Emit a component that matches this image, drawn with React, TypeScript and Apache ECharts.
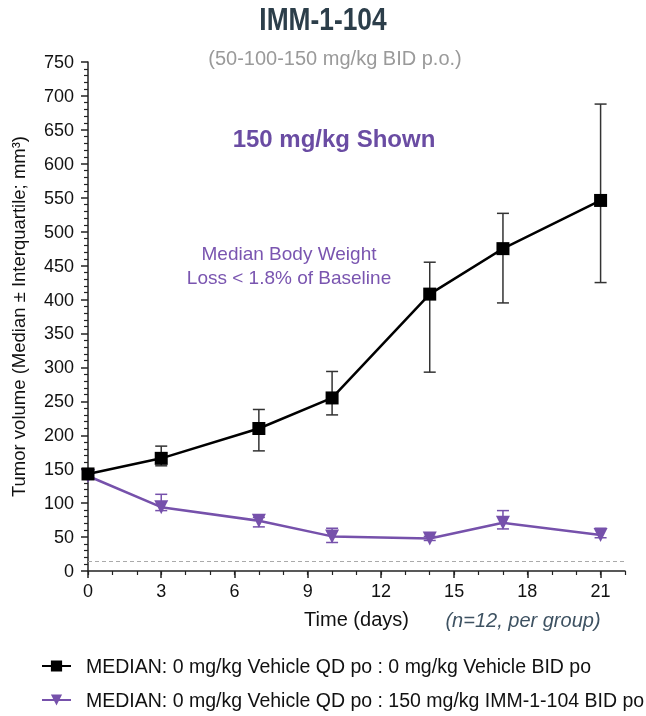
import React, { useEffect, useRef } from "react";
import * as echarts from "echarts";

const days = [0, 3, 7, 10, 14, 17, 21];
const vehicleMedian = [143, 166, 210, 255, 408, 475, 546];
const vehicleQ1 = [140, 155, 177, 230, 293, 395, 425];
const vehicleQ3 = [146, 184, 238, 294, 455, 527, 688];
const treatedMedian = [140, 94, 74, 51, 48, 71, 53];
const treatedQ1 = [138, 89, 65, 42, 45, 62, 49];
const treatedQ3 = [142, 113, 79, 63, 51, 89, 63];
const xMajorTicks = [0, 3, 6, 9, 12, 15, 18, 21];
const lodLine = 15;

const seriesNames = [
  "MEDIAN: 0 mg/kg Vehicle QD po : 0 mg/kg Vehicle BID po",
  "MEDIAN: 0 mg/kg Vehicle QD po : 150 mg/kg IMM-1-104 BID po",
];

const PURPLE = "#7651ab";
const FONT = "'Liberation Sans', Arial, sans-serif";

function errorBars(color: string) {
  return (params: any, api: any) => {
    const x = api.value(0);
    const lo = api.coord([x, api.value(1)]);
    const hi = api.coord([x, api.value(2)]);
    const w = 6;
    const style = { stroke: color, lineWidth: 1.5 };
    return {
      type: "group",
      children: [
        { type: "line", shape: { x1: lo[0], y1: lo[1], x2: hi[0], y2: hi[1] }, style },
        { type: "line", shape: { x1: lo[0] - w, y1: lo[1], x2: lo[0] + w, y2: lo[1] }, style },
        { type: "line", shape: { x1: hi[0] - w, y1: hi[1], x2: hi[0] + w, y2: hi[1] }, style },
      ],
    };
  };
}

export default function App() {
  const ref = useRef<HTMLDivElement>(null);
  useEffect(() => {
    if (!ref.current) return;
    const chart = echarts.init(ref.current, null, { renderer: "svg" });
    const axisColor = "#222";
    chart.setOption({
      animation: false,
      textStyle: { fontFamily: FONT },
      grid: { left: 88, right: 21, top: 62, bottom: 145, containLabel: false },
      xAxis: [
        {
          type: "value",
          min: 0,
          max: 22,
          interval: 3,
          name: "Time (days)",
          nameLocation: "middle",
          nameGap: 38,
          nameTextStyle: { fontSize: 20, color: "#111", fontFamily: FONT },
          axisLine: { show: true, lineStyle: { color: axisColor, width: 1.5 } },
          axisTick: { show: true, length: 7, customValues: xMajorTicks, lineStyle: { color: axisColor, width: 1.5 } },
          axisLabel: { customValues: xMajorTicks, fontSize: 18, color: "#111", margin: 11 },
          splitLine: { show: false },
        },
        {
          type: "value",
          min: 0,
          max: 22,
          interval: 1,
          position: "bottom",
          axisLine: { show: false },
          axisTick: { show: true, length: 4, lineStyle: { color: axisColor, width: 1.2 } },
          axisLabel: { show: false },
          splitLine: { show: false },
        },
      ],
      yAxis: {
        type: "value",
        min: 0,
        max: 750,
        interval: 50,
        name: "Tumor volume (Median ± Interquartile; mm³)",
        nameLocation: "middle",
        nameRotate: 90,
        nameGap: 60,
        nameTextStyle: { fontSize: 18.5, color: "#111", fontFamily: FONT },
        axisLine: { show: true, lineStyle: { color: axisColor, width: 1.5 } },
        axisTick: { show: true, length: 7, lineStyle: { color: axisColor, width: 1.5 } },
        minorTick: { show: true, splitNumber: 5, length: 4, lineStyle: { color: axisColor, width: 1.2 } },
        axisLabel: { fontSize: 18, color: "#111", margin: 14 },
        splitLine: { show: false },
      },
      legend: {
        orient: "vertical",
        left: 41,
        top: 656,
        padding: 0,
        itemGap: 14,
        itemWidth: 29,
        itemHeight: 14,
        textStyle: { fontSize: 19.5, color: "#111", fontFamily: FONT, padding: [0, 0, 0, 10] },
        data: seriesNames,
      },
      series: [
        {
          type: "custom",
          name: "vehErr",
          z: 1,
          renderItem: errorBars("#333"),
          encode: { x: 0, y: [1, 2] },
          data: days.map((d, i) => [d, vehicleQ1[i], vehicleQ3[i]]),
          silent: true,
        },
        {
          type: "custom",
          name: "trtErr",
          z: 1,
          renderItem: errorBars(PURPLE),
          encode: { x: 0, y: [1, 2] },
          data: days.map((d, i) => [d, treatedQ1[i], treatedQ3[i]]),
          silent: true,
        },
        {
          type: "line",
          name: seriesNames[1],
          z: 3,
          data: days.map((d, i) => [d, treatedMedian[i]]),
          symbol: "triangle",
          symbolRotate: 180,
          symbolSize: 14,
          itemStyle: { color: PURPLE },
          lineStyle: { color: PURPLE, width: 2.5 },
          markLine: {
            silent: true,
            symbol: "none",
            label: { show: false },
            lineStyle: { color: "#aaa", type: [4, 3], width: 1.2 },
            data: [{ yAxis: lodLine }],
          },
        },
        {
          type: "line",
          name: seriesNames[0],
          z: 4,
          data: days.map((d, i) => [d, vehicleMedian[i]]),
          symbol: "rect",
          symbolSize: 13,
          itemStyle: { color: "#000" },
          lineStyle: { color: "#000", width: 2.5 },
        },
      ],
      graphic: [
        {
          type: "text",
          x: 323,
          y: 19,
          scaleX: 0.85,
          style: { text: "IMM-1-104", fontSize: 31, fontWeight: "bold", fill: "#2c3e4a", align: "center", verticalAlign: "middle", fontFamily: FONT },
        },
        {
          type: "text",
          x: 335,
          y: 58,
          style: { text: "(50-100-150 mg/kg BID p.o.)", fontSize: 20, fill: "#9a9a9a", align: "center", verticalAlign: "middle", fontFamily: FONT },
        },
        {
          type: "text",
          x: 334,
          y: 138,
          style: { text: "150 mg/kg Shown", fontSize: 24, fontWeight: "bold", fill: "#6a4ca3", align: "center", verticalAlign: "middle", fontFamily: FONT },
        },
        {
          type: "text",
          x: 289,
          y: 265,
          style: { text: "Median Body Weight\nLoss < 1.8% of Baseline", fontSize: 19, lineHeight: 24, fill: "#7a55b0", align: "center", verticalAlign: "middle", fontFamily: FONT },
        },
        {
          type: "text",
          x: 523,
          y: 620,
          style: { text: "(n=12, per group)", fontSize: 20, fontStyle: "italic", fill: "#3e5262", align: "center", verticalAlign: "middle", fontFamily: FONT },
        },
      ],
    });
    return () => chart.dispose();
  }, []);
  return <div ref={ref} style={{ position: "fixed", left: 0, top: 0, width: 646, height: 716 }} />;
}
